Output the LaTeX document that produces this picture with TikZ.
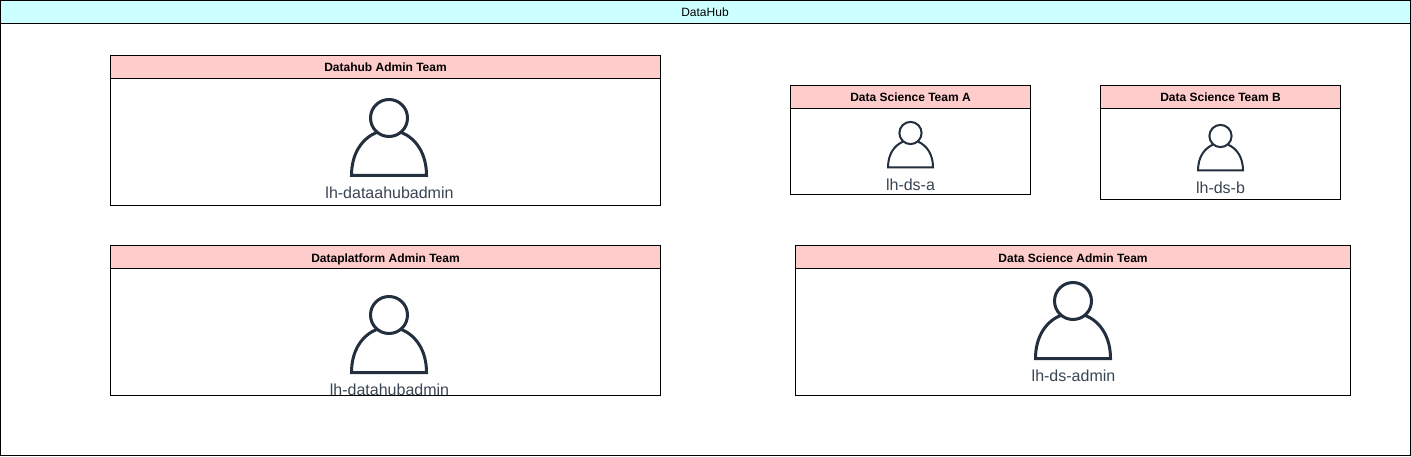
\documentclass[tikz,border=0pt]{standalone}
\usepackage{fontspec}
\setmainfont{Liberation Sans}
\definecolor{hdrred}{HTML}{FFCCCC}
\definecolor{hdrcyan}{HTML}{CCFFFF}
\definecolor{awsink}{HTML}{232F3E}
\definecolor{labelink}{HTML}{3A4552}
\tikzset{
  frame/.style={draw=black,line width=1pt,fill=white,rectangle,anchor=north west,inner sep=0pt,outer sep=0pt},
  teamhead/.style={draw=black,line width=1pt,fill=hdrred,rectangle,anchor=north west,inner sep=0pt,outer sep=0pt},
  tophead/.style={draw=black,line width=1pt,fill=hdrcyan,rectangle,anchor=north west,inner sep=0pt,outer sep=0pt},
  headtext/.style={anchor=base,inner sep=0pt,font=\fontsize{12}{14}\selectfont\bfseries,text=black},
  toptext/.style={anchor=base,inner sep=0pt,font=\fontsize{12}{14}\selectfont,text=black},
  usertext/.style={anchor=base,inner sep=0pt,font=\fontsize{16}{19}\selectfont,text=labelink},
  person/.pic={
    \draw[awsink,pic actions] (0,-59.5) circle[radius=18.5];
    \draw[awsink,line join=miter,pic actions]
      (-12.5,-45) .. controls (-27,-39) and (-37.5,-24) .. (-37.5,-2)
      -- (37.5,-2) .. controls (37.5,-24) and (27,-39) .. (12.5,-45);
  }
}
\begin{document}
\begin{tikzpicture}[x=1pt,y=-1pt]
\useasboundingbox (0,0) rectangle (1411,457);
% outer container
\node[frame,minimum width=1410pt,minimum height=455pt] (hubframe) at (0.5,0.5) {};
\node[tophead,minimum width=1410pt,minimum height=23pt] (hubhead) at (0.5,0.5) {};
\node[toptext] (hubtitle) at (705,16.5) {DataHub};
% Datahub Admin Team
\node[frame,minimum width=550pt,minimum height=150pt] (adminframe) at (110.5,55.5) {};
\node[teamhead,minimum width=550pt,minimum height=23pt] (adminhead) at (110.5,55.5) {};
\node[headtext] (admintitle) at (385.5,72) {Datahub Admin Team};
\pic[line width=3pt] at (389,177.5) {person};
\node[usertext] (adminuser) at (389.5,198.5) {lh-dataahubadmin};
% Data Science Team A
\node[frame,minimum width=240pt,minimum height=109pt] (aframe) at (790.5,85.5) {};
\node[teamhead,minimum width=240pt,minimum height=23pt] (ahead) at (790.5,85.5) {};
\node[headtext] (atitle) at (910.5,102) {Data Science Team A};
\pic[line width=2pt,scale=0.6] at (910.5,168.7) {person};
\node[usertext] (auser) at (910.5,190.5) {lh-ds-a};
% Data Science Team B
\node[frame,minimum width=240pt,minimum height=114pt] (bframe) at (1100.5,85.5) {};
\node[teamhead,minimum width=240pt,minimum height=23pt] (bhead) at (1100.5,85.5) {};
\node[headtext] (btitle) at (1220.5,102) {Data Science Team B};
\pic[line width=2pt,scale=0.6] at (1220.5,171.7) {person};
\node[usertext] (buser) at (1220.5,193.5) {lh-ds-b};
% Dataplatform Admin Team
\node[frame,minimum width=550pt,minimum height=150pt] (platframe) at (110.5,245.5) {};
\node[teamhead,minimum width=550pt,minimum height=23pt] (plathead) at (110.5,245.5) {};
\node[headtext] (plattitle) at (385.5,262) {Dataplatform Admin Team};
\pic[line width=3pt] at (389,374.5) {person};
\node[usertext] (platuser) at (389.5,395) {lh-datahubadmin};
% Data Science Admin Team
\node[frame,minimum width=555pt,minimum height=150pt] (dsframe) at (795.5,245.5) {};
\node[teamhead,minimum width=555pt,minimum height=23pt] (dshead) at (795.5,245.5) {};
\node[headtext] (dstitle) at (1073,262) {Data Science Admin Team};
\pic[line width=3pt] at (1073,360.5) {person};
\node[usertext] (dsuser) at (1073.5,381) {lh-ds-admin};
\end{tikzpicture}
\end{document}
